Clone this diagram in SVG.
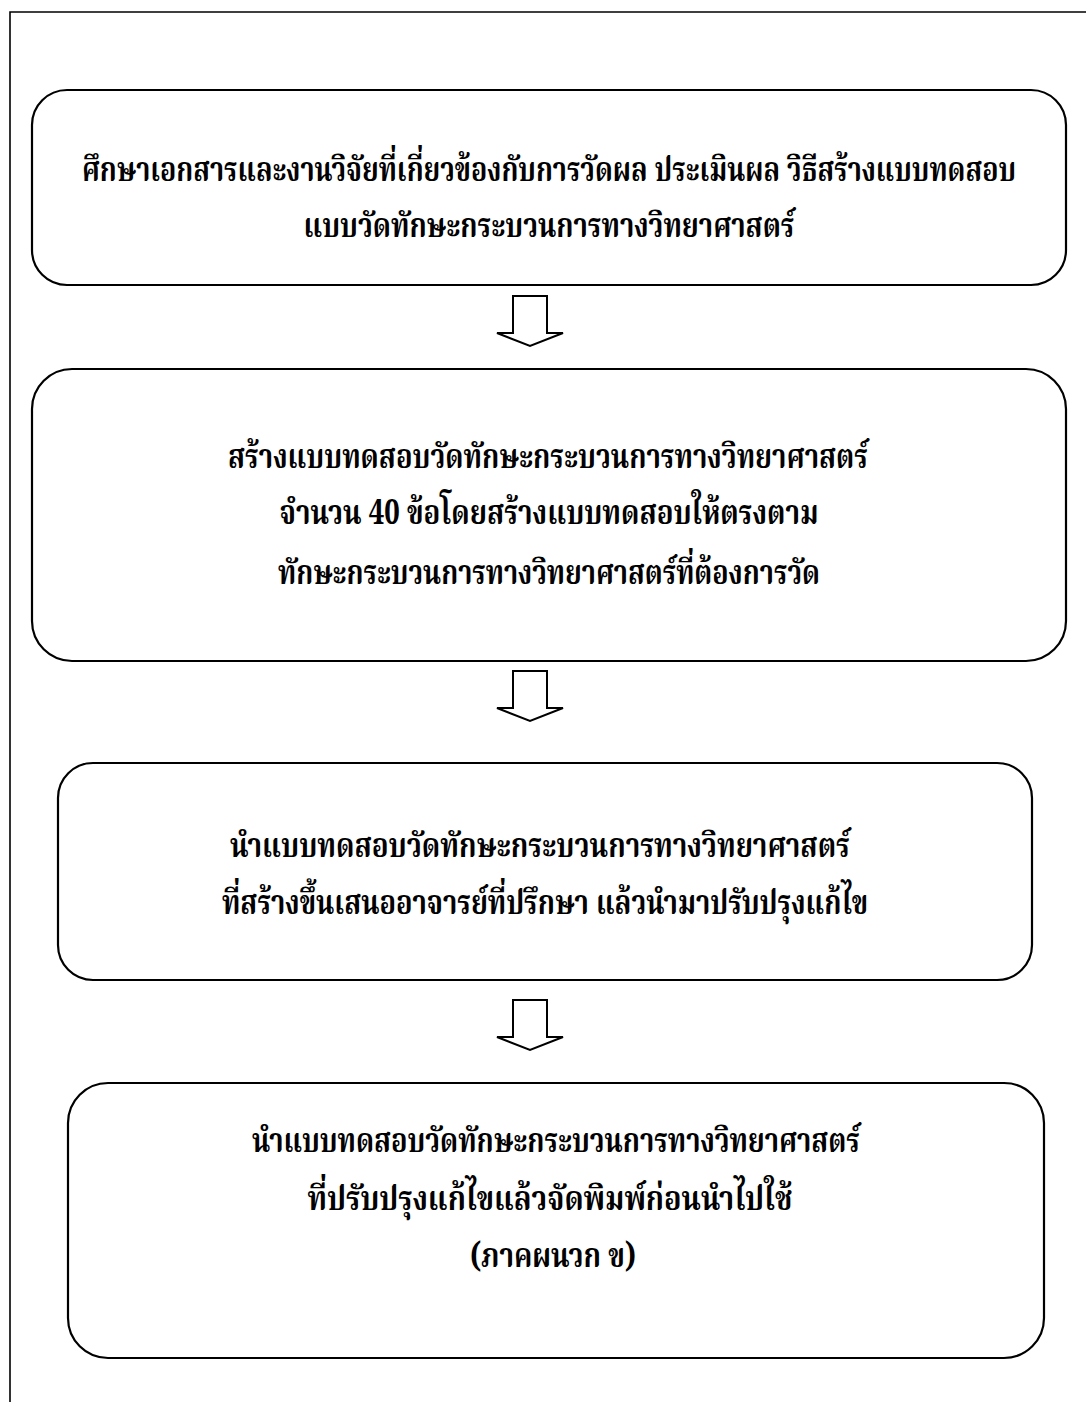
<svg xmlns="http://www.w3.org/2000/svg" width="1086" height="1402" viewBox="0 0 1086 1402">
<style>
.box{fill:#fff;stroke:#000;stroke-width:2.2}
.frame{fill:none;stroke:#000;stroke-width:1.6}
.arr{fill:#fff;stroke:#000;stroke-width:2;stroke-linejoin:miter}
.t{font-family:"Noto Serif Thai","Norasi","Noto Sans Thai","Loma","Garuda","Tlwg Typo","Liberation Serif",serif;font-size:34px;font-weight:bold;text-anchor:middle;fill:#000}
</style>
<rect width="1086" height="1402" fill="#fff"/>
<path class="frame" d="M1086,12 H10 V1402"/>
<defs>
<path id="downArrow" d="M-17,0 H17 V37 H33 L0,50 L-33,37 H-17 Z"/>
</defs>
<g id="connectors">
<use href="#downArrow" class="arr" x="530" y="296"/>
<use href="#downArrow" class="arr" x="530" y="671"/>
<use href="#downArrow" class="arr" x="530" y="1000"/>
</g>
<g id="node1">
<rect class="box" x="32" y="90" width="1034" height="195" rx="35" ry="35"/>
<text class="t" x="549" y="181" textLength="934" lengthAdjust="spacingAndGlyphs">ศึกษาเอกสารและงานวิจัยที่เกี่ยวข้องกับการวัดผล ประเมินผล วิธีสร้างแบบทดสอบ</text>
<text class="t" x="549" y="237" textLength="491" lengthAdjust="spacingAndGlyphs">แบบวัดทักษะกระบวนการทางวิทยาศาสตร์</text>
</g>
<g id="node2">
<rect class="box" x="32" y="369" width="1034" height="292" rx="40" ry="40"/>
<text class="t" x="548" y="468" textLength="640" lengthAdjust="spacingAndGlyphs">สร้างแบบทดสอบวัดทักษะกระบวนการทางวิทยาศาสตร์</text>
<text class="t" x="549" y="524" textLength="539" lengthAdjust="spacingAndGlyphs">จำนวน 40 ข้อโดยสร้างแบบทดสอบให้ตรงตาม</text>
<text class="t" x="549" y="584" textLength="542" lengthAdjust="spacingAndGlyphs">ทักษะกระบวนการทางวิทยาศาสตร์ที่ต้องการวัด</text>
</g>
<g id="node3">
<rect class="box" x="58" y="763" width="974" height="217" rx="35" ry="35"/>
<text class="t" x="540" y="857" textLength="620" lengthAdjust="spacingAndGlyphs">นำแบบทดสอบวัดทักษะกระบวนการทางวิทยาศาสตร์</text>
<text class="t" x="545" y="914" textLength="646" lengthAdjust="spacingAndGlyphs">ที่สร้างขึ้นเสนออาจารย์ที่ปรึกษา แล้วนำมาปรับปรุงแก้ไข</text>
</g>
<g id="node4">
<rect class="box" x="68" y="1083" width="976" height="275" rx="40" ry="40"/>
<text class="t" x="556" y="1152" textLength="608" lengthAdjust="spacingAndGlyphs">นำแบบทดสอบวัดทักษะกระบวนการทางวิทยาศาสตร์</text>
<text class="t" x="550" y="1210" textLength="485" lengthAdjust="spacingAndGlyphs">ที่ปรับปรุงแก้ไขแล้วจัดพิมพ์ก่อนนำไปใช้</text>
<text class="t" x="553" y="1267" textLength="166" lengthAdjust="spacingAndGlyphs">(ภาคผนวก ข)</text>
</g>
</svg>
